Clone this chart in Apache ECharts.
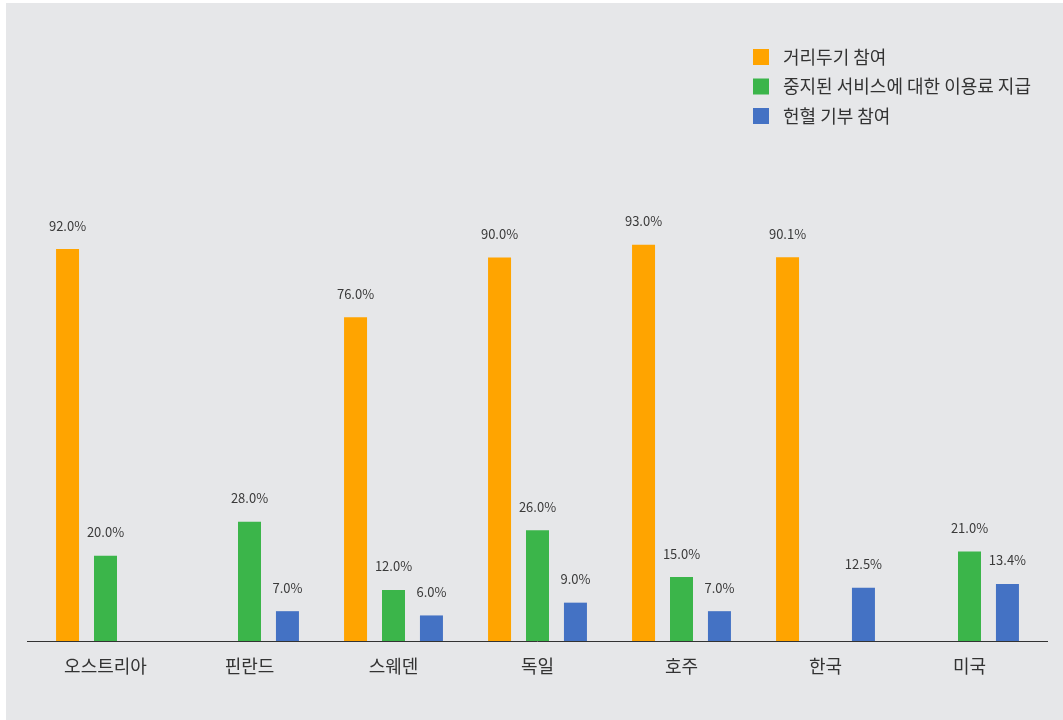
<!DOCTYPE html>
<html>
<head>
<meta charset="utf-8">
<script src="https://cdn.jsdelivr.net/npm/echarts@6/dist/echarts.min.js"></script>
<style>
  html, body { margin: 0; padding: 0; background: #ffffff; }
  #panel { position: absolute; left: 6px; top: 3px; right: 0; bottom: 0; background: #e6e7e9; }
  #chart { position: absolute; left: 0; top: 0; width: 1063px; height: 720px; }
</style>
</head>
<body>
<div id="panel"></div>
<div id="chart"></div>
<script>
// Countries and participation rates (%)
const countries = ['오스트리아', '핀란드', '스웨덴', '독일', '호주', '한국', '미국'];
const seriesNames = ['거리두기 참여', '중지된 서비스에 대한 이용료 지급', '헌혈 기부 참여'];
const distancing = [92.0, null, 76.0, 90.0, 93.0, 90.1, null];
const servicePayment = [20.0, 28.0, 12.0, 26.0, 15.0, null, 21.0];
const bloodDonation = [null, 7.0, 6.0, 9.0, 7.0, 12.5, 13.4];
const colors = ['#ffa400', '#3bb54a', '#4472c4'];

const FONT = '"Noto Sans CJK KR", "Noto Sans", sans-serif';

const chart = echarts.init(document.getElementById('chart'), null, { renderer: 'canvas' });

function barSeries(name, data, color) {
  return {
    name: name,
    type: 'bar',
    data: data,
    barWidth: 23,
    barGap: '65%',
    itemStyle: { color: color },
    label: {
      show: true,
      position: 'top',
      distance: 17,
      fontFamily: FONT,
      fontSize: 13,
      color: '#3a3a3a',
      formatter: p => p.value == null ? '' : p.value.toFixed(1) + '%'
    }
  };
}

chart.setOption({
  backgroundColor: 'transparent',
  animation: false,
  color: colors,
  legend: {
    orient: 'vertical',
    left: 748,
    top: 43,
    itemWidth: 16,
    itemHeight: 16,
    itemGap: 11.5,
    icon: 'rect',
    textStyle: { fontFamily: FONT, fontSize: 18, lineHeight: 16, color: '#333333', padding: [0, 0, 0, 9] },
    data: seriesNames
  },
  grid: { left: 33.5, right: 21.5, top: 215, bottom: 79, containLabel: false },
  xAxis: {
    type: 'category',
    data: countries,
    axisLine: { show: false },
    axisTick: { show: false },
    axisLabel: { fontFamily: FONT, fontSize: 18, color: '#333333', margin: 16 }
  },
  yAxis: {
    type: 'value',
    min: 0,
    max: 100,
    show: false,
    splitLine: { show: false }
  },
  graphic: [{
    type: 'line',
    shape: { x1: 27, y1: 641.5, x2: 1048, y2: 641.5 },
    style: { stroke: '#333333', lineWidth: 1 },
    silent: true
  }],
  series: [
    barSeries(seriesNames[0], distancing, colors[0]),
    barSeries(seriesNames[1], servicePayment, colors[1]),
    barSeries(seriesNames[2], bloodDonation, colors[2])
  ]
});
</script>
</body>
</html>
